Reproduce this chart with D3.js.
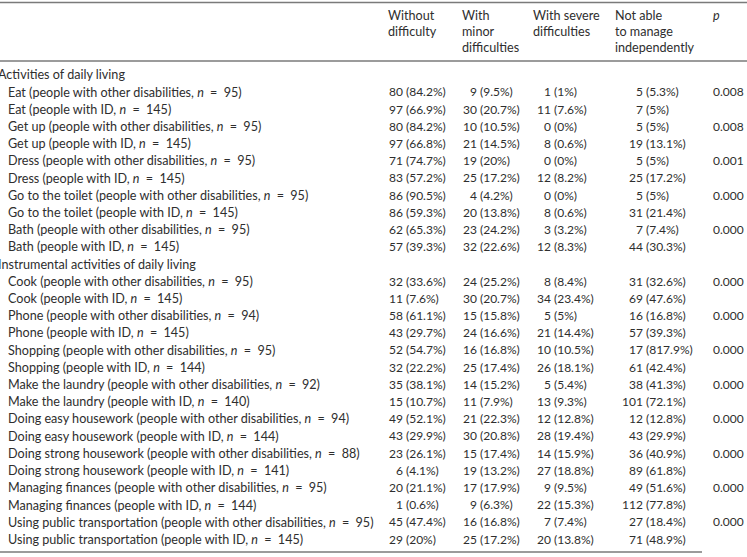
<!DOCTYPE html>
<html><head><meta charset="utf-8">
<script src="https://cdn.jsdelivr.net/npm/d3@7"></script>
<style>
html,body{margin:0;padding:0;background:#fff;}
svg text{font-family:Lato,"Open Sans",sans-serif;fill:#2e2e2e;}
</style></head>
<body><svg id="c" width="747" height="557"></svg>
<script>
const headers = [["Without","difficulty"],["With","minor","difficulties"],["With severe","difficulties"],["Not able","to manage","independently"],["p"]];
const sections = ["Activities of daily living","Instrumental activities of daily living"];
const sectionSizes = [10,16];
const activities = ["Eat","Eat","Get up","Get up","Dress","Dress","Go to the toilet","Go to the toilet","Bath","Bath",
 "Cook","Cook","Phone","Phone","Shopping","Shopping","Make the laundry","Make the laundry","Doing easy housework","Doing easy housework",
 "Doing strong housework","Doing strong housework","Managing finances","Managing finances","Using public transportation","Using public transportation"];
const groups = ["other disabilities","ID"];
const rowN = [95,145,95,145,95,145,95,145,95,145, 95,145,94,145,95,144,92,140,94,144,88,141,95,144,95,145];
const withoutN = [80,97,80,97,71,83,86,86,62,57, 32,11,58,43,52,32,35,15,49,43,23,6,20,1,45,29];
const withoutPct = ["84.2%","66.9%","84.2%","66.8%","74.7%","57.2%","90.5%","59.3%","65.3%","39.3%",
 "33.6%","7.6%","61.1%","29.7%","54.7%","22.2%","38.1%","10.7%","52.1%","29.9%","26.1%","4.1%","21.1%","0.6%","47.4%","20%"];
const minorN = [9,30,10,21,19,25,4,20,23,32, 24,30,15,24,16,25,14,11,21,30,15,19,17,9,16,25];
const minorPct = ["9.5%","20.7%","10.5%","14.5%","20%","17.2%","4.2%","13.8%","24.2%","22.6%",
 "25.2%","20.7%","15.8%","16.6%","16.8%","17.4%","15.2%","7.9%","22.3%","20.8%","17.4%","13.2%","17.9%","6.3%","16.8%","17.2%"];
const severeN = [1,11,0,8,0,12,0,8,3,12, 8,34,5,21,10,26,5,13,12,28,14,27,9,22,7,20];
const severePct = ["1%","7.6%","0%","0.6%","0%","8.2%","0%","0.6%","3.2%","8.3%",
 "8.4%","23.4%","5%","14.4%","10.5%","18.1%","5.4%","9.3%","12.8%","19.4%","15.9%","18.8%","9.5%","15.3%","7.4%","13.8%"];
const notAbleN = [5,7,5,19,5,25,5,31,7,44, 31,69,16,57,17,61,38,101,12,43,36,89,49,112,27,71];
const notAblePct = ["5.3%","5%","5%","13.1%","5%","17.2%","5%","21.4%","7.4%","30.3%",
 "32.6%","47.6%","16.8%","39.3%","817.9%","42.4%","41.3%","72.1%","12.8%","29.9%","40.9%","61.8%","51.6%","77.8%","18.4%","48.9%"];
const pValues = ["0.008","","0.008","","0.001","","0.000","","0.000","",
 "0.000","","0.000","","0.000","","0.000","","0.000","","0.000","","0.000","","0.000",""];

const svg = d3.select("#c");
const W = 747;
const FS = 12.6;
const FSN = 12;
const lineColor = "#7a7a7a";

const layout = [];
let k = 0;
sections.forEach((s, si) => {
  layout.push({type:"section", text:s});
  for (let j = 0; j < sectionSizes[si]; j++) { layout.push({type:"row", i:k}); k++; }
});
const y = d3.scaleLinear().domain([0, layout.length - 1]).range([75, 539.5]);
const colKeys = ["without","minor","severe","notAble","p"];
const headX = d3.scaleOrdinal().domain(colKeys).range([388, 462, 533, 615, 713]);
const parenX = d3.scaleOrdinal().domain(colKeys).range([406, 480, 554, 646, 713]);

svg.append("line").attr("x1",0).attr("x2",W).attr("y1",2.5).attr("y2",2.5).attr("stroke",lineColor).attr("stroke-width",1.5);
svg.append("line").attr("x1",0).attr("x2",W).attr("y1",61).attr("y2",61).attr("stroke",lineColor).attr("stroke-width",1.5);
svg.append("line").attr("x1",0).attr("x2",702).attr("y1",552).attr("y2",552).attr("stroke",lineColor).attr("stroke-width",1.5);

headers.forEach((lines, ci) => {
  const t = svg.append("text").attr("x", headX(colKeys[ci])).attr("font-size", FS)
    .attr("font-style", colKeys[ci] === "p" ? "italic" : null);
  lines.forEach((ln, li) => {
    t.append("tspan").attr("x", headX(colKeys[ci])).attr("y", 16 + li*16).attr("dy","0.35em").text(ln);
  });
});

const cols = [
  {key:"without", n:withoutN, pct:withoutPct},
  {key:"minor", n:minorN, pct:minorPct},
  {key:"severe", n:severeN, pct:severePct},
  {key:"notAble", n:notAbleN, pct:notAblePct}
];

layout.forEach((d, r) => {
  const yy = y(r);
  if (d.type === "section") {
    svg.append("text").attr("x", -2).attr("y", yy).attr("dy","0.35em").attr("font-size", FS).text(d.text);
    return;
  }
  const i = d.i;
  const t = svg.append("text").attr("x", 8).attr("y", yy).attr("dy","0.35em").attr("font-size", FS);
  t.append("tspan").text(`${activities[i]} (people with ${groups[i % 2]}, `);
  t.append("tspan").attr("font-style","italic").text("n");
  t.append("tspan").text(`\u2002=\u2002${rowN[i]})`);
  cols.forEach(c => {
    svg.append("text").attr("x", parenX(c.key) - 3).attr("y", yy).attr("dy","0.35em")
      .attr("text-anchor","end").attr("font-size", FSN).text(c.n[i]);
    svg.append("text").attr("x", parenX(c.key)).attr("y", yy).attr("dy","0.35em")
      .attr("font-size", FSN).text(`(${c.pct[i]})`);
  });
  if (pValues[i]) {
    svg.append("text").attr("x", parenX("p")).attr("y", yy).attr("dy","0.35em").attr("font-size", FSN).text(pValues[i]);
  }
});
</script></body></html>
